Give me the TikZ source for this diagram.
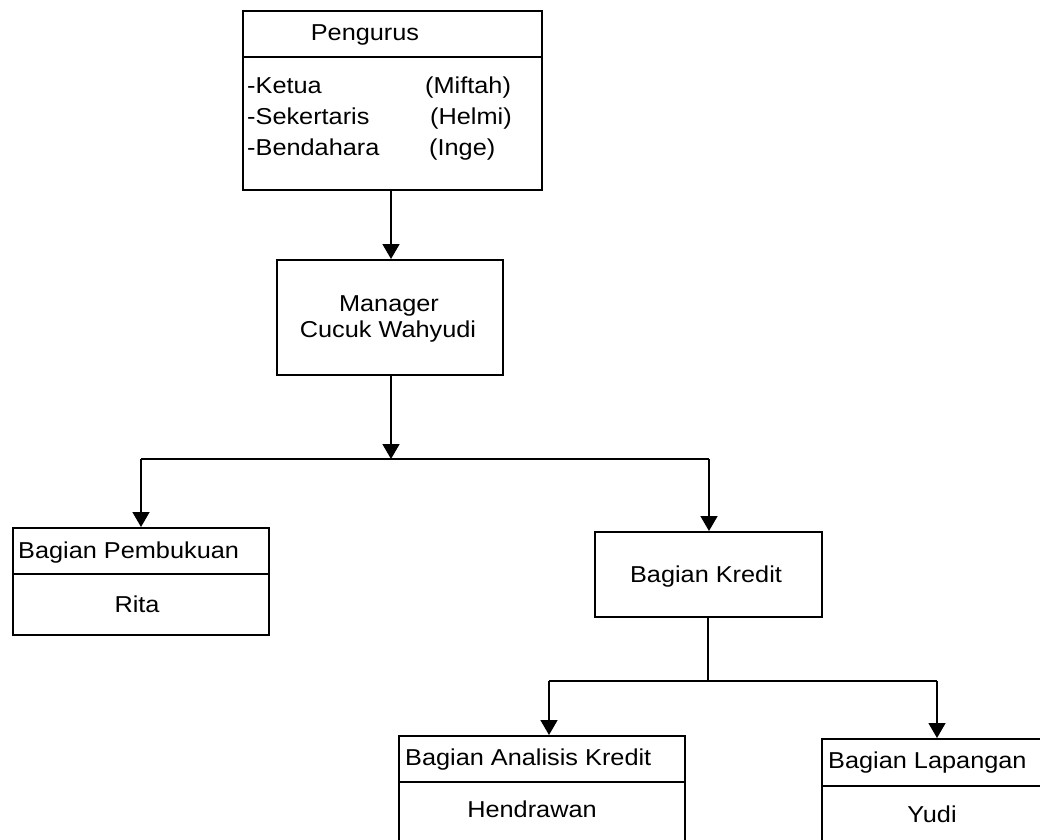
\documentclass[tikz,border=0pt]{standalone}
\usepackage{fontspec}
\setmainfont{Liberation Sans}[FakeStretch=1.1]
\usetikzlibrary{arrows.meta}
\begin{document}
\begin{tikzpicture}[x=1pt,y=-1pt,
  box/.style={draw, line width=1.5pt, anchor=north west, inner sep=0pt},
  txt/.style={inner sep=0pt, font=\fontsize{23}{27}\selectfont},
  link/.style={line width=1.5pt},
  arr/.style={line width=1.5pt, -{Triangle[width=17pt,length=15pt]}}]
\useasboundingbox (0,0) rectangle (1040,839);
\clip (0,0) rectangle (1040,839);

% Pengurus
\node[box, minimum width=299pt, minimum height=46pt] (pengH) at (242,10) {};
\node[box, minimum width=299pt, minimum height=133pt] (pengB) at (242,56) {};
\node[txt, anchor=base] (pengT) at (365,40) {Pengurus};
\node[txt, anchor=base west] (k1) at (247,93) {-Ketua};
\node[txt, anchor=base west] (k2) at (247,124) {-Sekertaris};
\node[txt, anchor=base west] (k3) at (247,155) {-Bendahara};
\node[txt, anchor=base west] (n1) at (425,93) {(Miftah)};
\node[txt, anchor=base west] (n2) at (430,124) {(Helmi)};
\node[txt, anchor=base west] (n3) at (429,155) {(Inge)};

% Manager
\node[box, minimum width=226pt, minimum height=115pt] (mgr) at (276,259) {};
\node[txt, anchor=base] (mgrT1) at (389,311) {Manager};
\node[txt, anchor=base] (mgrT2) at (388,337) {Cucuk Wahyudi};

% Bagian Pembukuan
\node[box, minimum width=256pt, minimum height=46pt] (pembH) at (12,527) {};
\node[box, minimum width=256pt, minimum height=61pt] (pembB) at (12,573) {};
\node[txt, anchor=base west] (pembT) at (18,558) {Bagian Pembukuan};
\node[txt, anchor=base] (rita) at (137,612) {Rita};

% Bagian Kredit
\node[box, minimum width=227pt, minimum height=85pt] (kred) at (594,531) {};
\node[txt, anchor=base] (kredT) at (706,582) {Bagian Kredit};

% Bagian Analisis Kredit
\node[box, minimum width=286pt, minimum height=46pt] (anH) at (398,735) {};
\node[box, minimum width=286pt, minimum height=90pt] (anB) at (398,781) {};
\node[txt, anchor=base west] (anT) at (405,765) {Bagian Analisis Kredit};
\node[txt, anchor=base] (hend) at (532,817) {Hendrawan};

% Bagian Lapangan
\node[box, minimum width=240pt, minimum height=47pt] (lapH) at (821,738) {};
\node[box, minimum width=240pt, minimum height=90pt] (lapB) at (821,785) {};
\node[txt, anchor=base west] (lapT) at (828,768) {Bagian Lapangan};
\node[txt, anchor=base] (yudi) at (932,822) {Yudi};

% connectors
\coordinate (j1) at (391,459);
\coordinate (dPemb) at (141,459);
\coordinate (dKred) at (709,459);
\coordinate (j2) at (708,681);
\coordinate (dAn) at (549,681);
\coordinate (dLap) at (937,681);

\draw[arr] (pengB.south -| j1) -- (mgr.north -| j1);
\draw[arr] (mgr.south -| j1) -- (j1);
\draw[link] (dPemb) -- (dKred);
\draw[arr] (dPemb) -- (pembH.north -| dPemb);
\draw[arr] (dKred) -- (kred.north -| dKred);
\draw[link] (kred.south -| j2) -- (j2);
\draw[link] (dAn) -- (dLap);
\draw[arr] (dAn) -- (anH.north -| dAn);
\draw[arr] (dLap) -- (lapH.north -| dLap);
\end{tikzpicture}
\end{document}
